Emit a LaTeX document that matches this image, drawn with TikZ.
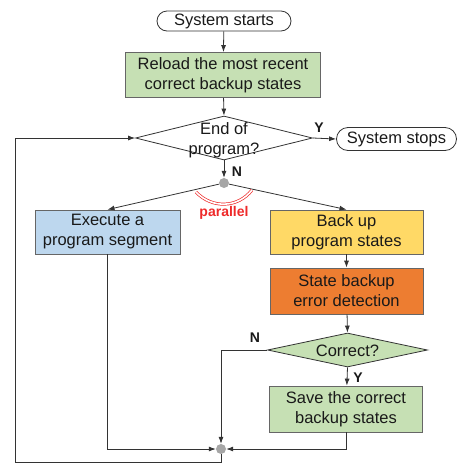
\documentclass[tikz,border=0pt]{standalone}
\usepackage{fontspec}
\setmainfont{Liberation Sans}
\usetikzlibrary{shapes.geometric,arrows.meta}
\definecolor{gfill}{HTML}{C6E0B4}
\definecolor{bfill}{HTML}{BDD7EE}
\definecolor{yfill}{HTML}{FFD966}
\definecolor{ofill}{HTML}{ED7D31}
\definecolor{lc}{HTML}{333333}
\definecolor{bc}{HTML}{666666}
\definecolor{pred}{HTML}{EE2A2A}
\begin{document}
\begin{tikzpicture}[x=1pt,y=-1pt,
  every node/.style={font=\fontsize{16.5}{20}\selectfont, inner sep=0pt, text=black!90},
  term/.style={draw=lc, line width=0.8pt, rectangle, rounded corners=10pt, minimum height=20pt},
  procbox/.style={draw=bc, line width=0.8pt, rectangle, align=center, minimum width=153pt, minimum height=45pt},
  decis/.style={draw=lc, line width=0.8pt, diamond, minimum width=177pt, minimum height=44pt, aspect=4},
  junc/.style={circle, fill=black!35, minimum size=10pt},
  lab/.style={font=\fontsize{14}{16}\selectfont\bfseries},
  arr/.style={draw=lc, line width=0.8pt, -{Latex[length=7pt,width=5pt]}},
  ln/.style={draw=lc, line width=0.8pt}]
\useasboundingbox (0,0) rectangle (456,464);

\node[term, minimum width=134pt] (start) at (224,21) {System starts};
\node[procbox, fill=gfill, minimum width=195pt] (reload) at (223,75) {Reload the most recent\\correct backup states};
\node[decis] (endp) at (224,138) {};
\node[align=center] (endpt) at (224,140) {End of\\program?};
\node[term, minimum width=120pt, minimum height=23pt, rounded corners=11.5pt] (stops) at (396.5,139) {System stops};
\node[junc] (j1) at (224,183) {};
\node[procbox, fill=bfill, minimum width=145pt, minimum height=44pt] (exec) at (107.5,232) {Execute a\\program segment};
\node[procbox, fill=yfill, minimum height=44pt] (backup) at (346.5,232) {Back up\\program states};
\node[procbox, fill=ofill, minimum height=46pt] (detect) at (346.5,291) {State backup\\error detection};
\node[decis, fill=gfill, minimum width=160pt, minimum height=34pt] (correct) at (347.5,350) {};
\node (correctt) at (347.5,351) {Correct?};
\node[procbox, fill=gfill, minimum height=46pt] (save) at (346,409) {Save the correct\\backup states};
\node[junc] (j2) at (221,449) {};
\coordinate (lb) at (15,462);

\draw[arr] (start) -- (reload);
\draw[arr] (reload) -- (endp.north);
\draw[arr] (endp.east) -- (stops.west);
\node[lab] (ylab1) at (319,128) {Y};
\draw[arr] (endp.south) -- (j1.north);
\node[lab] (nlab1) at (237,172) {N};
\draw[arr] (j1) -- (exec.north);
\draw[arr] (j1) -- (backup.north);
\draw[pred, line width=0.7pt, double=white, double distance=1.6pt] (196,192) .. controls (212,209) and (238,208) .. (252,190);
\node[lab, text=pred] (par) at (224,213) {parallel};
\draw[arr] (backup) -- (detect);
\draw[arr] (detect) -- (correct.north);
\draw[arr] (correct.south) -- (save);
\node[lab] (ylab2) at (358,378) {Y};
\draw[arr] (correct.west) -| (j2.north);
\node[lab] (nlab2) at (255,338) {N};
\draw[arr] (save.south) |- (j2.east);
\draw[arr] (exec.south) |- (j2.west);
\draw[arr] (j2.south) |- (lb) |- (endp.west);
\end{tikzpicture}
\end{document}
